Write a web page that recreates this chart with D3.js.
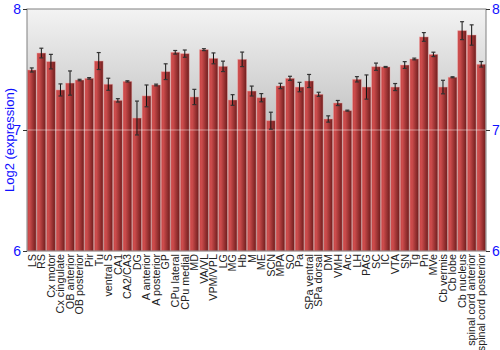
<!DOCTYPE html>
<html>
<head>
<meta charset="utf-8">
<script src="https://cdn.jsdelivr.net/npm/d3@7"></script>
<style>
  body { margin: 0; background: #fff; }
  svg { font-family: "Liberation Sans", Arial, sans-serif; }
</style>
</head>
<body>
<div id="chart"></div>
<script>
// brain regions
var regions = ["LS", "RS", "Cx motor", "Cx cingulate", "OB anterior", "OB posterior", "Pir", "Tu",
  "ventral S", "CA1", "CA2/CA3", "DG", "A anterior", "A posterior", "GP", "CPu lateral", "CPu medial",
  "MD", "VA/VL", "VPM/VPL", "LG", "MG", "Hb", "M", "ME", "SCN", "MPA", "SO", "Pa", "SPa ventral",
  "SPa dorsal", "DM", "VMH", "Arc", "LH", "PAG", "SC", "IC", "VTA", "SN", "Tg", "Pn", "MVe",
  "Cb vermis", "Cb lobe", "Cb nucleus", "spinal cord anterior", "spinal cord posterior"]

// mean log2 expression
var means = [7.496, 7.636, 7.565, 7.331, 7.388, 7.413, 7.427, 7.570,
  7.378, 7.245, 7.402, 7.099, 7.282, 7.372, 7.482, 7.642, 7.631,
  7.273, 7.664, 7.592, 7.526, 7.248, 7.584, 7.322, 7.267, 7.077, 7.364, 7.427, 7.355, 7.405,
  7.295, 7.091, 7.223, 7.160, 7.419, 7.355, 7.523, 7.521, 7.355, 7.537, 7.587, 7.769, 7.625,
  7.355, 7.436, 7.821, 7.785, 7.543]

// standard error
var errs = [0.017, 0.040, 0.060, 0.050, 0.100, 0.006, 0.006, 0.070,
  0.050, 0.014, 0.005, 0.140, 0.090, 0.007, 0.065, 0.015, 0.030,
  0.063, 0.008, 0.045, 0.043, 0.044, 0.060, 0.041, 0.034, 0.070, 0.022, 0.017, 0.039, 0.054,
  0.017, 0.026, 0.021, 0.004, 0.022, 0.100, 0.030, 0.004, 0.029, 0.028, 0.007, 0.036, 0.018,
  0.056, 0.004, 0.074, 0.084, 0.023]

var yTicks = [6, 7, 8]

var margin = {top: 9, right: 14, bottom: 99, left: 27},
    width = 500 - margin.left - margin.right,
    height = 350 - margin.top - margin.bottom;

var svg = d3.select("#chart")
  .append("svg")
    .attr("width", 500)
    .attr("height", 350)

var defs = svg.append("defs")

var bg = defs.append("linearGradient").attr("id", "bgGrad")
  .attr("x1", 0).attr("y1", 0).attr("x2", 0).attr("y2", 1)
bg.append("stop").attr("offset", "0%").attr("stop-color", "#f3f3f3")
bg.append("stop").attr("offset", "100%").attr("stop-color", "#8e8e8e")

var barGrad = defs.append("linearGradient").attr("id", "barGrad")
  .attr("x1", 0).attr("y1", 0).attr("x2", 1).attr("y2", 0)
barGrad.append("stop").attr("offset", "0%").attr("stop-color", "#c94545")
barGrad.append("stop").attr("offset", "25%").attr("stop-color", "#cc4c4c")
barGrad.append("stop").attr("offset", "100%").attr("stop-color", "#6e1c1c")

var g = svg.append("g")
  .attr("transform", "translate(" + margin.left + "," + margin.top + ")")

var x = d3.scaleBand()
  .domain(regions)
  .range([0, width])
  .paddingInner(0.08)
  .paddingOuter(0.04)

var y = d3.scaleLinear()
  .domain([6, 8])
  .range([height, 0])

// background
g.append("rect")
  .attr("width", width)
  .attr("height", height)
  .attr("fill", "url(#bgGrad)")

// bars
g.selectAll(".bar")
  .data(means)
  .enter().append("rect")
    .attr("class", "bar")
    .attr("x", function(d, i) { return x(regions[i]) })
    .attr("y", function(d) { return y(d) })
    .attr("width", x.bandwidth())
    .attr("height", function(d) { return height - y(d) })
    .attr("fill", "url(#barGrad)")
    .attr("stroke", "rgba(240,170,170,0.55)")
    .attr("stroke-width", 0.8)

// grid line at 7
g.append("line")
  .attr("x1", 0).attr("x2", width)
  .attr("y1", y(7)).attr("y2", y(7))
  .attr("stroke", "#ffffff")
  .attr("stroke-opacity", 0.45)
  .attr("stroke-width", 1)

// error bars
var eb = g.selectAll(".err")
  .data(means)
  .enter().append("g")
    .attr("class", "err")
    .attr("transform", function(d, i) { return "translate(" + (x(regions[i]) + x.bandwidth() / 2) + ",0)" })

eb.append("line")
  .attr("y1", function(d, i) { return y(d - errs[i]) })
  .attr("y2", function(d, i) { return y(d + errs[i]) })
  .attr("stroke", "#111")
  .attr("stroke-width", 1)

eb.append("line")
  .attr("x1", -2).attr("x2", 2)
  .attr("y1", function(d, i) { return y(d + errs[i]) })
  .attr("y2", function(d, i) { return y(d + errs[i]) })
  .attr("stroke", "#333")
  .attr("stroke-width", 1.2)

eb.append("line")
  .attr("x1", -2).attr("x2", 2)
  .attr("y1", function(d, i) { return y(d - errs[i]) })
  .attr("y2", function(d, i) { return y(d - errs[i]) })
  .attr("stroke", "#333")
  .attr("stroke-width", 1.2)

// frame
g.append("rect")
  .attr("width", width)
  .attr("height", height)
  .attr("fill", "none")
  .attr("stroke", "#808080")
  .attr("stroke-width", 1)

// y axes, left and right
var yLeft = g.append("g")
  .call(d3.axisLeft(y).tickValues(yTicks).tickFormat(d3.format("d")).tickSize(4).tickPadding(2))
var yRight = g.append("g")
  .attr("transform", "translate(" + width + ",0)")
  .call(d3.axisRight(y).tickValues(yTicks).tickFormat(d3.format("d")).tickSize(4).tickPadding(2))

svg.selectAll(".domain").remove()
svg.selectAll(".tick line").attr("stroke", "#333")
svg.selectAll(".tick text")
  .attr("fill", "#1010ff")
  .attr("font-size", "14px")
  .attr("font-family", "Liberation Sans, Arial, sans-serif")

// x labels
var xAxis = g.append("g")
  .attr("transform", "translate(0," + height + ")")
  .call(d3.axisBottom(x).tickSize(0).tickPadding(0))
xAxis.select(".domain").remove()
xAxis.selectAll("text")
  .attr("transform", "rotate(-90)")
  .attr("x", -3)
  .attr("y", 0)
  .attr("dy", "0.35em")
  .attr("text-anchor", "end")
  .attr("fill", "#222")
  .attr("font-size", "10.8px")
  .attr("font-family", "Liberation Sans, Arial, sans-serif")

// y axis title
svg.append("text")
  .attr("transform", "translate(9," + (margin.top + height / 2 + 10) + ") rotate(-90)")
  .attr("text-anchor", "middle")
  .attr("dy", "0.35em")
  .attr("fill", "#1010ff")
  .attr("font-size", "13px")
  .text("Log2 (expression)")
</script>
</body>
</html>
